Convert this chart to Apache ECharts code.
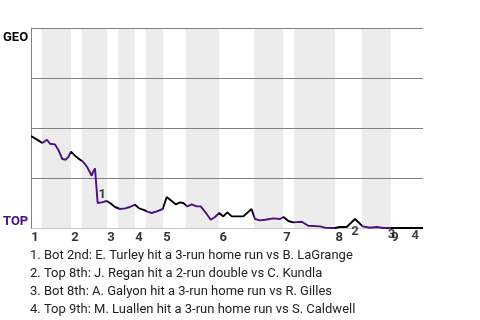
<!DOCTYPE html>
<html><head><meta charset="utf-8">
<script src="https://cdn.jsdelivr.net/npm/echarts@6/dist/echarts.min.js"></script>
<style>html,body{margin:0;padding:0;background:#fff}#c{width:480px;height:320px}</style>
</head><body><div id="c"></div>
<script>
// Half-inning start positions (game progress units, 0..100), top/bottom alternating
const halfStarts = [0, 2.8, 10.2, 13.0, 19.4, 22.2, 26.5, 29.3, 33.7, 39.5, 48.0, 56.9, 64.3, 67.1, 77.6, 84.4, 91.8];
const gameEnd = 100;
const inningLabels = ['1','2','3','4','5','6','7','8','9'];
const teamTop = 'GEO';
const teamBottom = 'TOP';
// Win probability (0 = TOP, 1 = GEO)
const wpX = [0,1.86,2.88,4.08,4.85,6.12,6.96,7.98,8.85,9.52,10.2,11.22,12.5,13.09,14.21,15.13,15.48,15.89,16.33,16.5,17.0,18.04,19.3,20.15,21.43,22.7,23.98,25.26,26.53,27.6,29.08,29.67,30.8,32.07,33.6,34.62,35.89,36.99,38.0,38.85,39.87,40.99,42.27,43.29,44.64,45.84,46.94,48.03,49.06,50.08,51.2,54.16,56.25,57.14,58.42,59.69,61.81,63.52,64.41,65.64,66.91,69.06,70.74,73.72,75.0,77.55,78.83,80.54,82.65,84.62,86.48,88.19,89.87,91.84,100];
const wpY = [0.46,0.438,0.425,0.4415,0.4215,0.418,0.3915,0.345,0.3415,0.355,0.3815,0.3615,0.3415,0.335,0.308,0.275,0.2615,0.283,0.298,0.255,0.125,0.128,0.135,0.125,0.105,0.095,0.098,0.105,0.1165,0.098,0.088,0.0815,0.075,0.083,0.095,0.155,0.135,0.118,0.128,0.125,0.108,0.118,0.108,0.108,0.075,0.0415,0.055,0.075,0.058,0.078,0.058,0.058,0.095,0.045,0.038,0.0415,0.048,0.045,0.055,0.035,0.028,0.0315,0.0115,0.008,0.0015,0,0.005,0.005,0.045,0.008,0.0015,0.005,0,0,0];
// Key plays
const annoText = ['1','2','3','4'];
const annoX = [17.0, 82.65, 91.6, 98.0];
const annoY = [0.125, 0.045, 0, 0];
const annoNotes = [
  '1. Bot 2nd: E. Turley hit a 3-run home run vs B. LaGrange',
  '2. Top 8th: J. Regan hit a 2-run double vs C. Kundla',
  '3. Bot 8th: A. Galyon hit a 3-run home run vs R. Gilles',
  '4. Top 9th: M. Luallen hit a 3-run home run vs S. Caldwell'
];

const BLACK = '#000000', PURPLE = '#4b0f82';
const annoOffsets = [[4.5,-8.5],[0,12.5],[1.5,6.5],[0,7.5]];

const bounds = halfStarts.concat([gameEnd]);
const pieces = [];
const bands = [];
for (let i = 0; i < halfStarts.length; i++) {
  pieces.push({gte: bounds[i], lt: (i === halfStarts.length-1 ? gameEnd + 1 : bounds[i+1]), color: i % 2 === 0 ? BLACK : PURPLE});
  if (i % 2 === 1) bands.push([{xAxis: bounds[i], yAxis: 0}, {xAxis: bounds[i+1], yAxis: 1}]);
}
const inningData = [];
for (let i = 0; i < inningLabels.length; i++) inningData.push({value: [halfStarts[2*i], 0], name: inningLabels[i]});
const annoData = annoText.map((t, i) => ({value: [annoX[i], annoY[i]], name: t, label: {offset: annoOffsets[i]}}));

const chart = echarts.init(document.getElementById('c'), null, {renderer: 'canvas'});
chart.setOption({
  animation: false,
  grid: {left: 31, top: 28, width: 392, height: 200},
  xAxis: {type: 'value', min: 0, max: gameEnd, axisLabel: {show: false}, axisTick: {show: false},
    splitLine: {show: false}, axisLine: {show: true, lineStyle: {color: '#c8c8c8', width: 1}}},
  yAxis: {type: 'value', min: 0, max: 1, interval: 0.25, z: 1.5, axisLabel: {show: false}, axisTick: {show: false},
    axisLine: {show: true, lineStyle: {color: '#808080', width: 1}},
    splitLine: {show: true, lineStyle: {color: ['#c8c8c8','#808080','#808080','#808080','#808080'], width: 1}}},
  visualMap: {type: 'piecewise', show: false, dimension: 0, seriesIndex: 0, pieces: pieces},
  series: [
    {type: 'line', data: wpX.map((x, i) => [x, wpY[i]]), showSymbol: false, symbol: 'none', z: 3,
      lineStyle: {width: 1.9}, clip: false,
      markArea: {silent: true, itemStyle: {color: '#ececec'}, data: bands}},
    {type: 'scatter', data: inningData, symbolSize: 0, z: 4, silent: true,
      label: {show: true, position: 'inside', offset: [4, 9.5], formatter: p => p.name,
        fontFamily: 'Roboto', fontWeight: 'bold', fontSize: 13, color: '#000'}},
    {type: 'scatter', data: annoData, symbolSize: 0, z: 5, silent: true,
      label: {show: true, position: 'inside', formatter: p => p.name,
        fontFamily: 'Roboto', fontWeight: 'bold', fontSize: 13, color: '#111'}}
  ],
  graphic: [
    {type: 'text', left: 3, top: 31, style: {text: teamTop, font: 'bold 13px Roboto', fill: '#000'}},
    {type: 'text', left: 3, top: 215, style: {text: teamBottom, font: 'bold 13px Roboto', fill: PURPLE}},
    {type: 'text', left: 30, top: 247, style: {text: annoNotes.join('\n'), font: '13px Roboto', lineHeight: 18, fill: '#222'}}
  ]
});
</script></body></html>
